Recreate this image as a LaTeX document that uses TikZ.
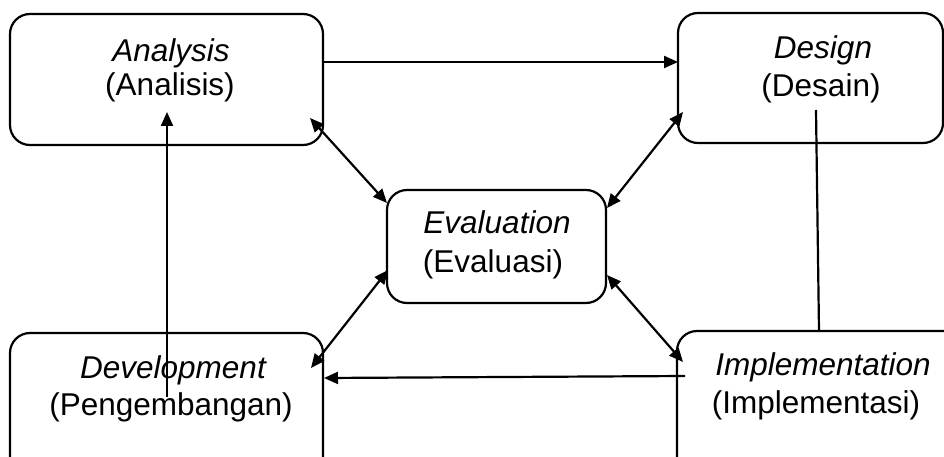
\documentclass[tikz,border=0pt]{standalone}
\usepackage{fontspec}
\setmainfont{Liberation Sans}
\usetikzlibrary{arrows.meta}
\begin{document}
\begin{tikzpicture}[x=1pt,y=-1pt,
  box/.style={draw,line width=2.2pt,rounded corners=20pt,inner sep=0pt,outer sep=0pt},
  txt/.style={anchor=base,inner sep=0pt,font=\fontsize{31.5}{37}\selectfont},
  ln/.style={line width=2.2pt},
  arr/.style={line width=2.2pt,-{Triangle[length=14pt,width=12pt]}},
  darr/.style={line width=2.2pt,{Triangle[length=14pt,width=12pt]}-{Triangle[length=14pt,width=12pt]}}]
\clip (0,0) rectangle (944,457);
\useasboundingbox (0,0) rectangle (944,457);
% boxes
\node[box,minimum width=313pt,minimum height=131pt] (ana) at (166.5,79.5) {};
\node[box,minimum width=265pt,minimum height=130pt] (des) at (810.5,78) {};
\node[box,minimum width=219pt,minimum height=113pt] (eva) at (496.5,246.5) {};
\node[box,minimum width=313pt,minimum height=160pt] (dev) at (166.5,413) {};
\node[box,minimum width=300pt,minimum height=160pt] (imp) at (827,411) {};
% texts
\node[txt] (ana1) at (171,62) {\itshape Analysis};
\node[txt] (ana2) at (170,96) {(Analisis)};
\node[txt] (des1) at (823,59) {\itshape Design};
\node[txt] (des2) at (821,97) {(Desain)};
\node[txt] (eva1) at (497,233) {\itshape Evaluation};
\node[txt] (eva2) at (493,272) {(Evaluasi)};
\node[txt] (dev1) at (173,378) {\itshape Development};
\node[txt] (dev2) at (171,415) {(Pengembangan)};
\node[txt] (imp1) at (823,375) {\itshape Implementation};
\node[txt] (imp2) at (816,413) {(Implementasi)};
% connector end points
\coordinate (anaR) at (323,62);
\coordinate (desL) at (678,62);
\coordinate (devIn) at (167,397);
\coordinate (anaIn) at (167,112);
\coordinate (desIn) at (816,110);
\coordinate (impTop) at (819,331);
\coordinate (impIn) at (685,376);
\coordinate (devR) at (324,378);
\coordinate (anaSE) at (310,118);
\coordinate (evaNW) at (387,203);
\coordinate (desSW) at (683,112);
\coordinate (evaNE) at (607,208);
\coordinate (evaSW) at (388,270);
\coordinate (devNE) at (311,368);
\coordinate (evaSE) at (607,275);
\coordinate (impNW) at (683,362);
% connectors
\draw[arr] (anaR) -- (desL);
\draw[arr] (devIn) -- (anaIn);
\draw[ln] (desIn) -- (impTop);
\draw[arr] (impIn) -- (devR);
\draw[darr] (anaSE) -- (evaNW);
\draw[darr] (desSW) -- (evaNE);
\draw[darr] (evaSW) -- (devNE);
\draw[darr] (evaSE) -- (impNW);
\end{tikzpicture}
\end{document}
